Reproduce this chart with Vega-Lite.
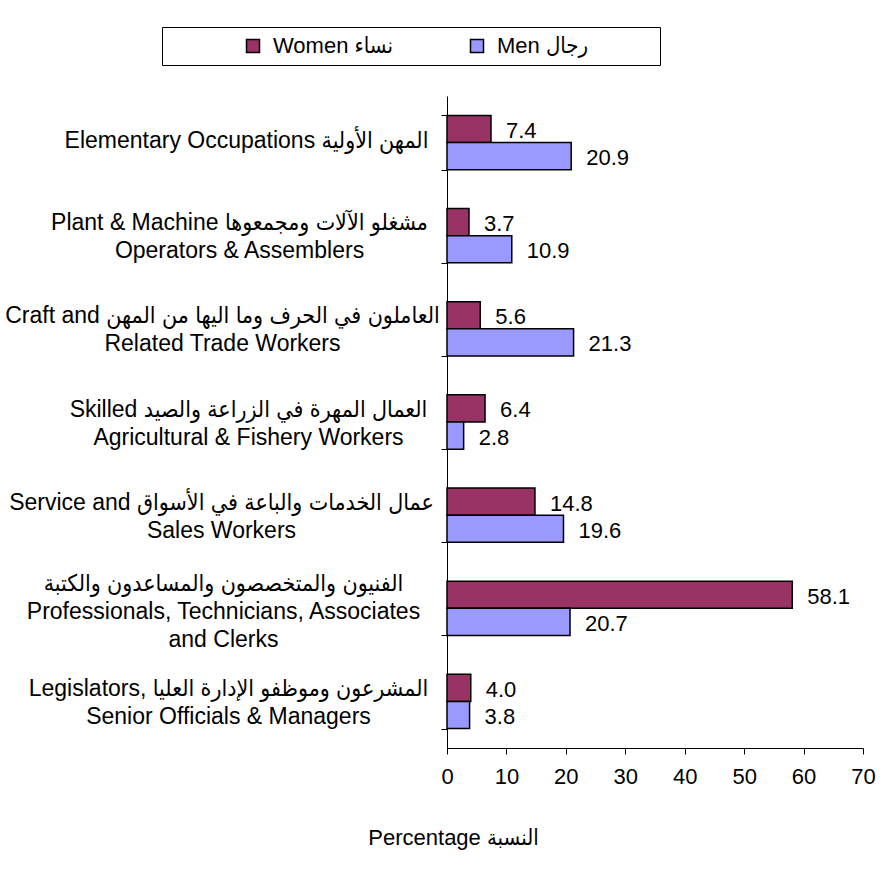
{
  "$schema": "https://vega.github.io/schema/vega-lite/v6.json",
  "width": 416,
  "height": 652,
  "autosize": {"type": "none"},
  "padding": {"left": 447, "top": 96, "right": 26, "bottom": 122},
  "config": {
    "font": "Liberation Sans, DejaVu Sans Condensed",
    "view": {"stroke": null},
    "legend": {"strokeWidth": 1},
    "axis": {
      "grid": false,
      "domainColor": "black",
      "tickColor": "black",
      "labelColor": "black",
      "titleColor": "black",
      "labelFont": "Liberation Sans, DejaVu Sans Condensed",
      "titleFont": "Liberation Sans, DejaVu Sans Condensed",
      "labelFontSize": 22,
      "domainWidth": 1,
      "tickWidth": 1
    }
  },
  "data": {
    "values": [
      {"occupation": "Elementary Occupations المهن الأولية", "gender": "Women نساء", "value": 7.4},
      {"occupation": "Elementary Occupations المهن الأولية", "gender": "Men رجال", "value": 20.9},
      {"occupation": "Plant & Machine  مشغلو الآلات ومجمعوها|Operators & Assemblers", "gender": "Women نساء", "value": 3.7},
      {"occupation": "Plant & Machine  مشغلو الآلات ومجمعوها|Operators & Assemblers", "gender": "Men رجال", "value": 10.9},
      {"occupation": "Craft and  العاملون في الحرف وما اليها من المهن|Related Trade Workers", "gender": "Women نساء", "value": 5.6},
      {"occupation": "Craft and  العاملون في الحرف وما اليها من المهن|Related Trade Workers", "gender": "Men رجال", "value": 21.3},
      {"occupation": "Skilled  العمال المهرة في الزراعة والصيد|Agricultural & Fishery Workers", "gender": "Women نساء", "value": 6.4},
      {"occupation": "Skilled  العمال المهرة في الزراعة والصيد|Agricultural & Fishery Workers", "gender": "Men رجال", "value": 2.8},
      {"occupation": "Service and  عمال الخدمات والباعة في الأسواق|Sales Workers", "gender": "Women نساء", "value": 14.8},
      {"occupation": "Service and  عمال الخدمات والباعة في الأسواق|Sales Workers", "gender": "Men رجال", "value": 19.6},
      {"occupation": "الفنيون والمتخصصون والمساعدون والكتبة|Professionals, Technicians, Associates|and Clerks", "gender": "Women نساء", "value": 58.1},
      {"occupation": "الفنيون والمتخصصون والمساعدون والكتبة|Professionals, Technicians, Associates|and Clerks", "gender": "Men رجال", "value": 20.7},
      {"occupation": "Legislators,  المشرعون وموظفو الإدارة العليا|Senior Officials & Managers", "gender": "Women نساء", "value": 4.0},
      {"occupation": "Legislators,  المشرعون وموظفو الإدارة العليا|Senior Officials & Managers", "gender": "Men رجال", "value": 3.8}
    ]
  },
  "encoding": {
    "y": {
      "field": "occupation",
      "type": "nominal",
      "sort": [
        "Elementary Occupations المهن الأولية",
        "Plant & Machine  مشغلو الآلات ومجمعوها|Operators & Assemblers",
        "Craft and  العاملون في الحرف وما اليها من المهن|Related Trade Workers",
        "Skilled  العمال المهرة في الزراعة والصيد|Agricultural & Fishery Workers",
        "Service and  عمال الخدمات والباعة في الأسواق|Sales Workers",
        "الفنيون والمتخصصون والمساعدون والكتبة|Professionals, Technicians, Associates|and Clerks",
        "Legislators,  المشرعون وموظفو الإدارة العليا|Senior Officials & Managers"
      ],
      "scale": {"paddingInner": 0.417, "paddingOuter": 0.2085},
      "axis": {
        "title": null,
        "tickBand": "extent",
        "tickSize": 6,
        "labelPadding": {
          "condition": [
            {"test": "indexof(datum.label, 'Elementary') >= 0", "value": 195},
            {"test": "indexof(datum.label, 'Plant') >= 0", "value": 202},
            {"test": "indexof(datum.label, 'Craft') >= 0", "value": 219},
            {"test": "indexof(datum.label, 'Skilled') >= 0", "value": 193},
            {"test": "indexof(datum.label, 'Service') >= 0", "value": 220},
            {"test": "indexof(datum.label, 'Professionals') >= 0", "value": 218}
          ],
          "value": 213
        },
        "labelAlign": "center",
        "labelBaseline": "middle",
        "labelFontSize": 23,
        "labelLineHeight": 28,
        "labelOffset": {
          "condition": [
            {"test": "indexof(datum.label, 'Elementary') >= 0", "value": -2},
            {"test": "indexof(datum.label, 'Professionals') >= 0", "value": -25}
          ],
          "value": -13
        },
        "labelExpr": "split(datum.label, '|')",
        "labelLimit": 0
      }
    },
    "yOffset": {
      "field": "gender",
      "type": "nominal",
      "sort": ["Women نساء", "Men رجال"]
    },
    "x": {
      "field": "value",
      "type": "quantitative",
      "stack": null,
      "scale": {"domain": [0, 70], "nice": false},
      "axis": {
        "values": [0, 10, 20, 30, 40, 50, 60, 70],
        "tickSize": 6,
        "labelPadding": 12,
        "labelFlush": false,
        "title": "Percentage  النسبة",
        "titleX": 6,
        "titleY": 89,
        "titleBaseline": "middle",
        "titleFontSize": 22,
        "titleFontWeight": "normal"
      }
    }
  },
  "layer": [
    {
      "mark": {"type": "bar", "stroke": "black", "strokeWidth": 1.5},
      "encoding": {
        "color": {
          "field": "gender",
          "type": "nominal",
          "scale": {"domain": ["Women نساء", "Men رجال"], "range": ["#993366", "#9999FF"]},
          "legend": {
            "title": ".",
            "titleOrient": "right",
            "titleOpacity": 0,
            "titlePadding": 57,
            "titleFontSize": 22,
            "orient": "none",
            "legendX": -285,
            "legendY": -69,
            "direction": "horizontal",
            "symbolType": "square",
            "symbolSize": 169,
            "symbolStrokeColor": "black",
            "symbolStrokeWidth": 1.5,
            "symbolOpacity": 1,
            "labelFontSize": 22,
            "labelFont": "Liberation Sans, DejaVu Sans Condensed",
            "labelColor": "black",
            "padding": 8,
            "strokeColor": "black",
            "symbolOffset": 72,
            "columnPadding": 0,
            "labelOffset": 9,
            "labelLimit": 0
          }
        }
      }
    },
    {
      "mark": {"type": "text", "align": "left", "baseline": "middle", "dx": 15, "dy": 2, "fontSize": 22, "color": "black"},
      "encoding": {
        "text": {"field": "value", "type": "quantitative", "format": ".1f"}
      }
    }
  ]
}
